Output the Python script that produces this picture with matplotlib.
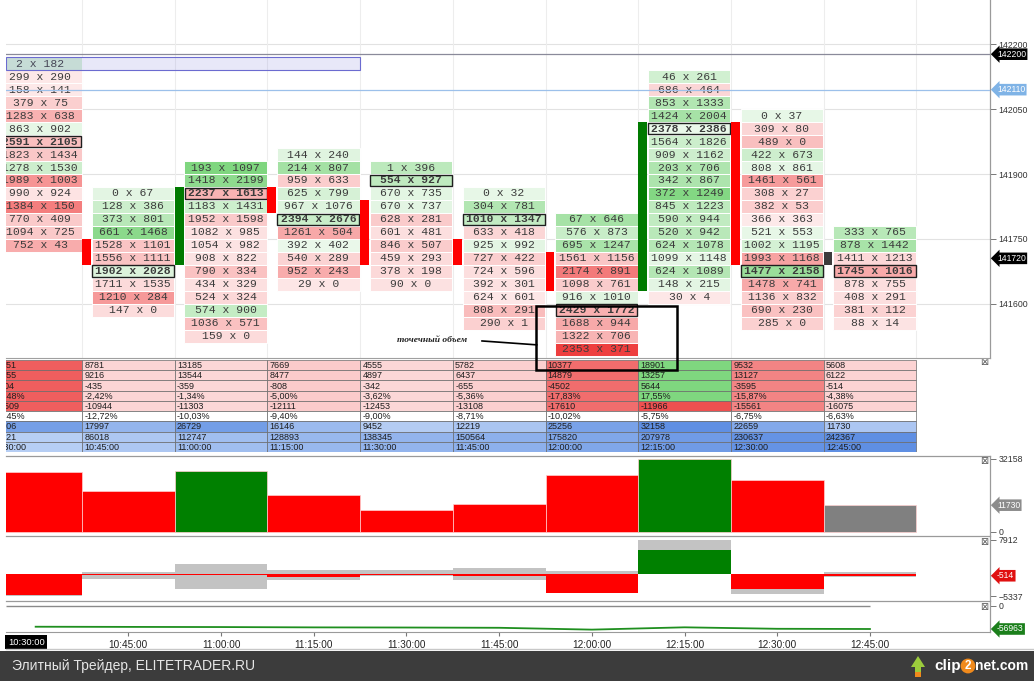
import numpy as np
import matplotlib
matplotlib.use("Agg")
import matplotlib.pyplot as plt
import matplotlib.transforms as mtransforms
from matplotlib.patches import Rectangle, Polygon
from matplotlib.lines import Line2D
from matplotlib.colors import to_rgb

times = ["10:30:00", "10:45:00", "11:00:00", "11:15:00", "11:30:00",
         "11:45:00", "12:00:00", "12:15:00", "12:30:00", "12:45:00"]

# footprint cells (sell x buy), top price row first
fp_1030 = [(2, 182), (299, 290), (158, 141), (379, 75), (1283, 638), (863, 902),
           (2591, 2105), (1823, 1434), (1278, 1530), (1989, 1003), (990, 924),
           (1384, 150), (770, 409), (1094, 725), (752, 43)]
fp_1045 = [(0, 67), (128, 386), (373, 801), (661, 1468), (1528, 1101), (1556, 1111),
           (1902, 2028), (1711, 1535), (1210, 284), (147, 0)]
fp_1100 = [(193, 1097), (1418, 2199), (2237, 1613), (1183, 1431), (1952, 1598),
           (1082, 985), (1054, 982), (908, 822), (790, 334), (434, 329), (524, 324),
           (574, 900), (1036, 571), (159, 0)]
fp_1115 = [(144, 240), (214, 807), (959, 633), (625, 799), (967, 1076), (2394, 2676),
           (1261, 504), (392, 402), (540, 289), (952, 243), (29, 0)]
fp_1130 = [(1, 396), (554, 927), (670, 735), (670, 737), (628, 281), (601, 481),
           (846, 507), (459, 293), (378, 198), (90, 0)]
fp_1145 = [(0, 32), (304, 781), (1010, 1347), (633, 418), (925, 992), (727, 422),
           (724, 596), (392, 301), (624, 601), (808, 291), (290, 1)]
fp_1200 = [(67, 646), (576, 873), (695, 1247), (1561, 1156), (2174, 891), (1098, 761),
           (916, 1010), (2429, 1772), (1688, 944), (1322, 706), (2353, 371)]
fp_1215 = [(46, 261), (686, 464), (853, 1333), (1424, 2004), (2378, 2386), (1564, 1826),
           (909, 1162), (203, 706), (342, 867), (372, 1249), (845, 1223), (590, 944),
           (520, 942), (624, 1078), (1099, 1148), (624, 1089), (148, 215), (30, 4)]
fp_1230 = [(0, 37), (309, 80), (489, 0), (422, 673), (808, 861), (1461, 561), (308, 27),
           (382, 53), (366, 363), (521, 553), (1002, 1195), (1993, 1168), (1477, 2158),
           (1478, 741), (1136, 832), (690, 230), (285, 0)]
fp_1245 = [(333, 765), (878, 1442), (1411, 1213), (1745, 1016), (878, 755), (408, 291),
           (381, 112), (88, 14)]
bar_high = [142170, 141870, 141930, 141960, 141930, 141870, 141810, 142140, 142050, 141780]

candle_open = [None, 141750, 141690, 141870, 141840, 141750, 141720, 141630, 142020, 141720]
candle_close = [None, 141690, 141870, 141810, 141690, 141690, 141630, 142020, 141690, 141690]
direction = ["down", "down", "up", "down", "down", "down", "down", "up", "down", "live"]

buy_vol = [10551, 8781, 13185, 7669, 4555, 5782, 10377, 18901, 9532, 5608]
sell_vol = [15655, 9216, 13544, 8477, 4897, 6437, 14879, 13257, 13127, 6122]
delta = [-5104, -435, -359, -808, -342, -655, -4502, 5644, -3595, -514]
delta_pct = [-19.48, -2.42, -1.34, -5.00, -3.62, -5.36, -17.83, 17.55, -15.87, -4.38]
cum_delta = [-10509, -10944, -11303, -12111, -12453, -13108, -17610, -11966, -15561, -16075]
cum_delta_pct = [-15.45, -12.72, -10.03, -9.40, -9.00, -8.71, -10.02, -5.75, -6.75, -6.63]
volume = [26206, 17997, 26729, 16146, 9452, 12219, 25256, 32158, 22659, 11730]
cum_volume = [68021, 86018, 112747, 128893, 138345, 150564, 175820, 207978, 230637, 242367]

delta_hi = [0, 300, 2300, 750, 900, 1300, 500, 7912, 0, 400]
delta_lo = [-5337, -1300, -3600, -1400, -650, -1600, -4502, 0, -4900, -900]
session_cum_delta = [-51397, -51832, -52191, -52999, -53341, -53996, -58498, -52854, -56449, -56963]

price_ticks = [141600, 141750, 141900, 142050, 142200]
last_price = 141720
level_black = 142200
level_blue = 142110

footprints = [fp_1030, fp_1045, fp_1100, fp_1115, fp_1130,
              fp_1145, fp_1200, fp_1215, fp_1230, fp_1245]
STEP = 30
n = len(times)
x = np.arange(n)

W, H = 1034, 681
fig = plt.figure(figsize=(W / 100, H / 100), dpi=100)
fig.patch.set_facecolor("white")


def frame(x0, y0, x1, y1):
    return fig.add_axes([x0 / W, 1 - y1 / H, (x1 - x0) / W, (y1 - y0) / H])


def blend(c0, c1, t):
    a, b = np.array(to_rgb(c0)), np.array(to_rgb(c1))
    return tuple(a + (b - a) * min(max(t, 0.0), 1.0))


def cell_color(sell, buy):
    d = buy - sell
    if d >= 0:
        return blend("#ebf8eb", "#74d274", d / 1000)
    return blend("#fde9e9", "#ee3c3c", -d / 2000)


def tag(axis, val, label, fc, tc="white"):
    tr = mtransforms.blended_transform_factory(axis.transAxes, axis.transData)
    tr = tr + mtransforms.ScaledTranslation(7 / 100, 0, fig.dpi_scale_trans)
    axis.text(1.0, val, label, transform=tr, ha="left", va="center", fontsize=6.2,
              color=tc, clip_on=False, family="Liberation Sans",
              bbox=dict(boxstyle="larrow,pad=0.15", fc=fc, ec="none"), zorder=10)


def right_axis(axis, ticks, labels=None):
    axis.yaxis.tick_right()
    axis.set_yticks(ticks)
    if labels is not None:
        axis.set_yticklabels(labels)
    axis.tick_params(axis="y", length=4, width=0.7, color="#777", labelsize=6.3,
                     labelcolor="#333", pad=2)
    for lab in axis.get_yticklabels():
        lab.set_family("Liberation Sans")
    axis.set_xticks([])
    for s in ["left", "bottom"]:
        axis.spines[s].set_visible(False)
    for s in ["top", "right"]:
        axis.spines[s].set_color("#9a9a9a")
        axis.spines[s].set_linewidth(0.9)


XL, XR = 0.18, 10.795
P_LO, P_HI = 141474.6, 142302.3

# ---------------- footprint panel ----------------
ax = frame(6, 0, 990, 358)
ax.set_zorder(5)
ax.set_xlim(XL, XR)
ax.set_ylim(P_LO, P_HI)
for p in price_ticks:
    ax.axhline(p, color="#e2e2e2", lw=0.8, zorder=0)
for i in range(1, n + 1):
    ax.axvline(i, color="#ededed", lw=0.8, zorder=0)

for i, (cells, top) in enumerate(zip(footprints, bar_high)):
    poc = int(np.argmax([s + b for s, b in cells]))
    for k, (s, b) in enumerate(cells):
        lo = top - STEP * (k + 1)
        ax.add_patch(Rectangle((i + 0.105, lo), 0.89, STEP, fc=cell_color(s, b),
                               ec="white", lw=0.7, zorder=2))
        if k == poc:
            ax.add_patch(Rectangle((i + 0.108, lo + 1.5), 0.884, STEP - 3, fill=False,
                                   ec="#1e1e1e", lw=1.0, zorder=3))
        ax.text(i + 0.55, lo + STEP / 2, f"{s} x {b}", ha="center", va="center",
                fontsize=8.2, family="Liberation Mono", color="#3c3c3c",
                weight="bold" if k == poc else "normal", clip_on=True, zorder=4)

for i in range(n):
    if candle_open[i] is None:
        continue
    o, c = candle_open[i], candle_close[i]
    col = {"up": "#007a00", "down": "#ff0000", "live": "#3c3c3c"}[direction[i]]
    ax.add_patch(Rectangle((i, min(o, c)), 0.095, abs(c - o), fc=col, ec="none", zorder=3))

# highlighted level and marker lines (the 142200 marker sits just under its tick label)
black_mark = level_black - 23
blue_mark = level_blue - STEP / 2
ax.add_patch(Rectangle((XL, bar_high[0] - STEP), 4 - XL, STEP, fc=(0.45, 0.45, 0.85, 0.16),
                       ec="#6b6bd0", lw=0.8, zorder=5))
ax.axhline(black_mark, color="#8a8a9a", lw=0.9, zorder=5)
ax.axhline(blue_mark, color="#9cc0ea", lw=0.9, zorder=5)

right_axis(ax, price_ticks)
ax.spines["top"].set_visible(False)
ax.spines["bottom"].set_visible(True)
ax.spines["bottom"].set_color("#a0a0a0")
tag(ax, black_mark, str(level_black), "black")
tag(ax, blue_mark, str(level_blue), "#7fb3e6")
tag(ax, last_price - STEP / 2, str(last_price), "black")

# annotation
ax.text(4.78, 141516, "точечный объем", fontsize=6.8, style="italic", weight="bold",
        family="Liberation Serif", ha="center", va="center", color="#222", zorder=8)
ax.plot([5.315, 5.905], [141514, 141505], color="black", lw=1.2, zorder=8)
ax.add_patch(Rectangle((5.898, 141447), 1.521, 148, fill=False, ec="black", lw=1.8,
                       zorder=9, clip_on=False))

# ---------------- statistics table ----------------
tb = frame(6, 360, 990, 452)
tb.set_xlim(XL, XR)
tb.set_ylim(9, 0)
tb.axis("off")


def fmt_pct(v):
    return f"{v:.2f}%".replace(".", ",")


rows = [[str(v) for v in buy_vol], [str(v) for v in sell_vol], [str(v) for v in delta],
        [fmt_pct(v) for v in delta_pct], [str(v) for v in cum_delta],
        [fmt_pct(v) for v in cum_delta_pct], [str(v) for v in volume],
        [str(v) for v in cum_volume], times]
dmax = max(abs(d) for d in delta)


def sign_color(sign, t):
    if sign >= 0:
        return blend("#e2f6e2", "#7fd77f", t)
    return blend("#fde0e0", "#ee5050", t)


for i in range(n):
    t = abs(delta[i]) / dmax
    cols = [sign_color(delta[i], t)] * 4
    cols.append(sign_color(cum_delta[i], t))
    cols.append("white")
    cols.append(blend("#d8e6fa", "#5f8fe3", volume[i] / max(volume)))
    cv = blend("#d8e6fa", "#5f8fe3", cum_volume[i] / max(cum_volume))
    cols += [cv, cv]
    for r in range(9):
        tb.add_patch(Rectangle((i, r), 1, 1, fc=cols[r], ec="#6a6a6a", lw=0.5))
        tb.text(i + 0.025, r + 0.55, rows[r][i], ha="left", va="center", fontsize=6.5,
                family="Liberation Sans", color="#1e1e1e", clip_on=True)

# ---------------- volume panel ----------------
bar_cols = {"up": "#008000", "down": "#ff0000", "live": "#808080"}
vx = frame(6, 456, 990, 535)
vx.set_xlim(XL, XR)
vx.set_ylim(-1460, 33485)
vx.bar(x, volume, width=1, align="edge", color=[bar_cols[d] for d in direction],
       ec="#ffd0d0", lw=0.5)
right_axis(vx, [0, max(volume)])
tag(vx, volume[-1], str(volume[-1]), "#8c8c8c")

# ---------------- delta panel ----------------
dx = frame(6, 536, 990, 600)
dx.set_xlim(XL, XR)
dx.set_ylim(-6225, 8847)
dx.bar(x, np.array(delta_hi) - np.array(delta_lo), bottom=delta_lo, width=1, align="edge",
       color="#c3c3c3", ec="none")
dx.bar(x, delta, width=1, align="edge",
       color=["#008000" if d > 0 else "#ff0000" for d in delta], ec="none")
right_axis(dx, [min(delta_lo), max(delta_hi)])
tag(dx, delta[-1], str(delta[-1]), "#e01010")

# ---------------- cumulative delta panel ----------------
cx = frame(6, 601, 990, 632)
cx.set_xlim(XL, XR)
cx.set_ylim(-64298, 11490)
cx.hlines(0, XL, n - 0.5, color="#8a8a8a", lw=1.0)
cx.plot(x + 0.5, session_cum_delta, color="#1f8f1f", lw=1.3)
right_axis(cx, [0])
tag(cx, session_cum_delta[-1], str(session_cum_delta[-1]), "#1b7f1b")
cx.spines["bottom"].set_visible(True)
cx.spines["bottom"].set_color("#9a9a9a")
cx.set_xticks(x[1:] + 0.5)
cx.set_xticklabels(times[1:])
cx.tick_params(axis="x", length=3, color="#777", labelsize=7.2, labelcolor="#222", pad=3)
for lab in cx.get_xticklabels():
    lab.set_family("Liberation Sans")
cx.text(XL + 0.02, -0.33, times[0], transform=cx.get_xaxis_transform(), ha="left",
        va="center", fontsize=6.8, color="white", family="Liberation Sans",
        bbox=dict(boxstyle="square,pad=0.25", fc="black", ec="none"))

fig.add_artist(Line2D([6 / W, 1], [1 - 649 / H] * 2, color="#c8c8c8", lw=1.0))

# close buttons
for yy in [362, 461, 542, 607]:
    fig.text(984 / W, 1 - yy / H, "\u22a0", ha="center", va="center", fontsize=7,
             color="#555")

# ---------------- footer ----------------
fig.add_artist(Rectangle((0, 0), 1, 30 / H, transform=fig.transFigure, fc="#3c3c3c",
                         ec="none"))
fig.text(12 / W, 15 / H, "Элитный Трейдер, ELITETRADER.RU", ha="left", va="center",
         fontsize=10, color="#e6e6e6", family="Liberation Sans")
fig.add_artist(Polygon([[911 / W, 14 / H], [918 / W, 25 / H], [925 / W, 14 / H],
                        [921 / W, 14 / H], [921 / W, 5 / H], [915 / W, 5 / H],
                        [915 / W, 14 / H]], closed=True, transform=fig.transFigure,
                       fc="#9ccc3c", ec="none"))
fig.add_artist(Rectangle((915 / W, 4 / H), 6 / W, 5 / H, transform=fig.transFigure,
                         fc="#f08a1c", ec="none"))
fig.text(961 / W, 15 / H, "clip", ha="right", va="center", fontsize=11,
         color="white", family="Liberation Sans", weight="bold")
fig.text(968 / W, 15 / H, "2", ha="center", va="center", fontsize=8.5, color="white",
         family="Liberation Sans", weight="bold",
         bbox=dict(boxstyle="circle,pad=0.12", fc="#f08a1c", ec="none"))
fig.text(975 / W, 15 / H, "net.com", ha="left", va="center", fontsize=10,
         color="white", family="Liberation Sans", weight="bold")

fig.savefig("out.png", dpi=100, facecolor="white")
